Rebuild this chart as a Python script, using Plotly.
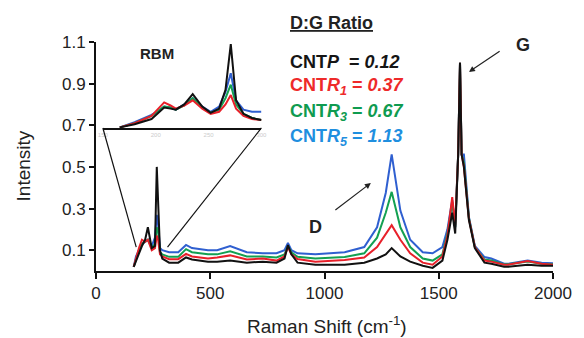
import plotly.graph_objects as go

# ---- main spectra (Raman shift in cm^-1, normalized intensity) ----
shift = [165, 175, 188, 201, 215, 227, 244, 258, 266, 272, 280, 290, 320, 360, 394, 420, 490, 530,
         587, 660, 730, 790, 825, 840, 855, 882, 960, 1088, 1174, 1230, 1268, 1294, 1332, 1375,
         1430, 1473, 1516, 1538, 1559, 1572, 1585, 1593, 1600, 1610, 1632, 1658, 1700, 1730,
         1786, 1803, 1889, 1950, 2000]

cnt_p = [0.02, 0.05, 0.08, 0.12, 0.15, 0.21, 0.11, 0.12, 0.50, 0.36, 0.10, 0.06, 0.04, 0.04, 0.065,
         0.055, 0.045, 0.045, 0.05, 0.04, 0.045, 0.04, 0.06, 0.125, 0.08, 0.04, 0.03, 0.03, 0.04,
         0.06, 0.08, 0.11, 0.07, 0.045, 0.025, 0.015, 0.05, 0.15, 0.28, 0.18, 0.56, 1.0, 0.56,
         0.5, 0.245, 0.11, 0.04, 0.035, 0.02, 0.02, 0.03, 0.025, 0.025]

cnt_r1 = [0.02, 0.06, 0.11, 0.15, 0.14, 0.15, 0.10, 0.11, 0.17, 0.15, 0.08, 0.07, 0.057, 0.057, 0.082,
          0.07, 0.06, 0.065, 0.075, 0.055, 0.06, 0.05, 0.07, 0.115, 0.08, 0.058, 0.045, 0.053, 0.065,
          0.115, 0.18, 0.22, 0.15, 0.085, 0.04, 0.03, 0.07, 0.17, 0.355, 0.22, 0.56, 1.0, 0.56,
          0.5, 0.25, 0.115, 0.05, 0.045, 0.03, 0.03, 0.048, 0.035, 0.03]

cnt_r3 = [0.02, 0.06, 0.10, 0.13, 0.14, 0.15, 0.11, 0.13, 0.21, 0.19, 0.09, 0.08, 0.068, 0.068, 0.105,
          0.09, 0.08, 0.08, 0.095, 0.07, 0.07, 0.065, 0.08, 0.12, 0.09, 0.068, 0.06, 0.067, 0.085,
          0.16, 0.28, 0.38, 0.21, 0.115, 0.06, 0.05, 0.08, 0.18, 0.33, 0.21, 0.56, 1.0, 0.56,
          0.52, 0.255, 0.115, 0.055, 0.05, 0.032, 0.032, 0.045, 0.035, 0.033]

cnt_r5 = [0.02, 0.07, 0.10, 0.13, 0.14, 0.15, 0.12, 0.16, 0.27, 0.22, 0.11, 0.10, 0.09, 0.09, 0.125,
          0.11, 0.10, 0.10, 0.12, 0.09, 0.085, 0.085, 0.10, 0.135, 0.10, 0.085, 0.08, 0.09, 0.115,
          0.21, 0.375, 0.56, 0.29, 0.15, 0.09, 0.085, 0.115, 0.20, 0.34, 0.21, 0.56, 1.0, 0.56,
          0.56, 0.26, 0.12, 0.067, 0.06, 0.035, 0.035, 0.05, 0.04, 0.037]

# ---- RBM inset (150-300 cm^-1) ----
rbm_shift = [166, 180, 196, 203, 208, 214, 219, 227, 235, 244, 252, 260, 266, 271, 276, 283, 291, 300]
rbm_p = [0.69, 0.705, 0.73, 0.76, 0.785, 0.78, 0.775, 0.80, 0.85, 0.79, 0.76, 0.78, 0.87, 1.09, 0.82, 0.755, 0.735, 0.725]
rbm_r1 = [0.69, 0.71, 0.745, 0.78, 0.81, 0.795, 0.78, 0.795, 0.82, 0.78, 0.755, 0.765, 0.80, 0.845, 0.78, 0.745, 0.73, 0.725]
rbm_r3 = [0.69, 0.71, 0.745, 0.77, 0.79, 0.785, 0.775, 0.795, 0.83, 0.785, 0.76, 0.775, 0.83, 0.895, 0.80, 0.755, 0.735, 0.725]
rbm_r5 = [0.69, 0.715, 0.75, 0.77, 0.79, 0.785, 0.775, 0.80, 0.83, 0.79, 0.765, 0.79, 0.86, 0.95, 0.82, 0.775, 0.765, 0.765]

x_ticks = [0, 500, 1000, 1500, 2000]
y_ticks = [0.1, 0.3, 0.5, 0.7, 0.9, 1.1]
y_tick_labels = ["0.1", "0.3", "0.5", "0.7", "0.9", "1.1"]
rbm_ticks = [150, 200, 250, 300]

names = ["CNTP", "CNTR1", "CNTR3", "CNTR5"]
ratios = ["0.12", "0.37", "0.67", "1.13"]
line_colors = ["#111111", "#e8202a", "#13a052", "#2f5fd0"]
text_colors = ["#151515", "#ee2a2a", "#0f9b50", "#1f8fdf"]

FONT = "Arial, Liberation Sans, sans-serif"

fig = go.Figure()
main_series = [cnt_r5, cnt_r3, cnt_r1, cnt_p]
inset_series = [rbm_r5, rbm_r3, rbm_r1, rbm_p]
order = [3, 2, 1, 0]
for idx, ys, ins in zip(order, main_series, inset_series):
    fig.add_trace(go.Scatter(x=shift, y=ys, mode="lines", name=names[idx],
                             line=dict(color=line_colors[idx], width=2), showlegend=False))
    fig.add_trace(go.Scatter(x=rbm_shift, y=ins, mode="lines", name=names[idx] + " RBM",
                             xaxis="x2", yaxis="y2",
                             line=dict(color=line_colors[idx], width=2), showlegend=False))

fig.update_layout(
    width=584, height=338,
    margin=dict(l=96, r=21, t=42, b=67),
    paper_bgcolor="white", plot_bgcolor="white",
    font=dict(family=FONT, color="#222222"),
    xaxis=dict(range=[0, 2000], tickvals=x_ticks, showline=True, linecolor="#111", linewidth=2,
               ticks="outside", ticklen=6, tickwidth=2, tickcolor="#111", showgrid=False,
               zeroline=False, tickfont=dict(size=17, color="#222"), domain=[0, 1]),
    yaxis=dict(range=[0, 1.1], tickvals=y_ticks, ticktext=y_tick_labels, showline=True,
               linecolor="#111", linewidth=2, ticks="outside", ticklen=5, tickwidth=2,
               tickcolor="#111", showgrid=False, zeroline=False,
               tickfont=dict(size=17, color="#222"), domain=[0, 1]),
    xaxis2=dict(domain=[0.015, 0.362], anchor="y2", range=[150, 300], tickvals=rbm_ticks,
                showline=True, linecolor="#111", linewidth=2, ticks="", showgrid=False,
                zeroline=False, tickfont=dict(size=6, color="#cccccc")),
    yaxis2=dict(domain=[0.6245, 1.0], anchor="x2", range=[0.687, 1.1], visible=False),
)

# zoom lines from inset to RBM region
fig.add_shape(type="line", xref="x", yref="y", x0=30, y0=0.687, x1=176, y1=0.115,
              line=dict(color="#111", width=1.2))
fig.add_shape(type="line", xref="x", yref="y", x0=724, y0=0.687, x1=313, y1=0.115,
              line=dict(color="#111", width=1.2))

# axis titles
fig.add_annotation(text="Intensity", xref="paper", yref="paper", x=-0.158, y=0.46,
                   xanchor="center", yanchor="middle",
                   textangle=-90, showarrow=False, font=dict(size=19, color="#222"))
fig.add_annotation(text="Raman Shift (cm<sup>-1</sup>)", xref="paper", yref="paper",
                   x=0.505, y=-0.236, xanchor="center", yanchor="middle", showarrow=False,
                   font=dict(size=19, color="#222"))

# peak labels
fig.add_annotation(text="<b>RBM</b>", x=266, y=1.047, xref="x", yref="y", showarrow=False,
                   font=dict(size=15, color="#222"))
fig.add_annotation(text="<b>G</b>", x=1870, y=1.085, xref="x", yref="y", showarrow=False,
                   font=dict(size=18, color="#222"))
fig.add_annotation(text="<b>D</b>", x=959, y=0.21, xref="x", yref="y", showarrow=False,
                   font=dict(size=18, color="#222"))
# arrows
fig.add_annotation(x=1632, y=0.956, ax=1773, ay=1.061, xref="x", yref="y", axref="x", ayref="y",
                   text="", showarrow=True, arrowhead=2, arrowsize=1, arrowwidth=1.2,
                   arrowcolor="#222")
fig.add_annotation(x=1203, y=0.423, ax=1041, ay=0.288, xref="x", yref="y", axref="x", ayref="y",
                   text="", showarrow=True, arrowhead=2, arrowsize=1, arrowwidth=1.2,
                   arrowcolor="#222")

# D:G ratio block
fig.add_annotation(text="<b><u>D:G Ratio</u></b>", xref="paper", yref="paper", x=0.42, y=1.083,
                   xanchor="left", yanchor="middle", showarrow=False,
                   font=dict(size=18, color="#222"))
labels_html = [
    "<b>CNT<i>P</i>&nbsp;&nbsp;= <i>" + ratios[0] + "</i></b>",
    "<b>CNT<i>R<sub>1</sub></i> = <i>" + ratios[1] + "</i></b>",
    "<b>CNT<i>R<sub>3</sub></i> = <i>" + ratios[2] + "</i></b>",
    "<b>CNT<i>R<sub>5</sub></i> = <i>" + ratios[3] + "</i></b>",
]
ypos = [0.913, 0.805, 0.692, 0.582]
for txt, yy, col in zip(labels_html, ypos, text_colors):
    fig.add_annotation(text=txt, xref="paper", yref="paper", x=0.42, y=yy, xanchor="left",
                       yanchor="middle", showarrow=False, font=dict(size=18, color=col))

# remove the default 8px page margin so the figure fills the window exactly
fig.write_html("out.html", config={"displayModeBar": False},
               post_script="document.body.style.margin='0';document.body.style.overflow='hidden';")
